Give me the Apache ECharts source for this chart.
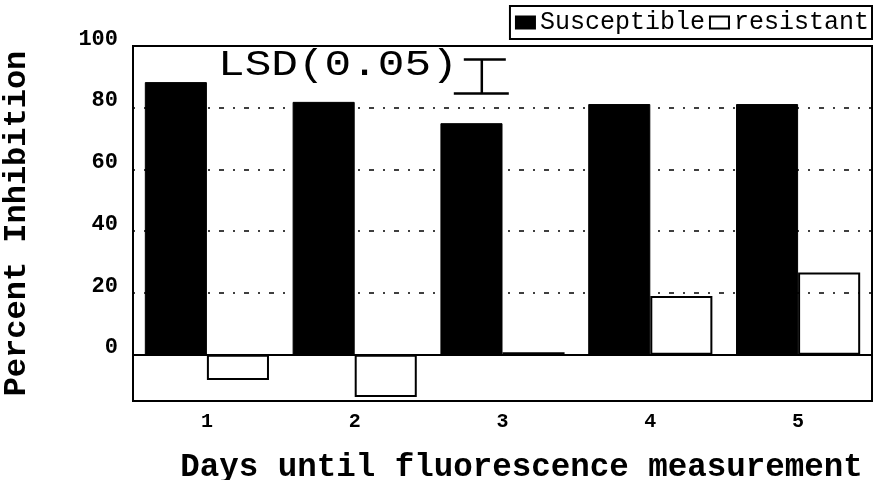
<!DOCTYPE html>
<html>
<head>
<meta charset="utf-8">
<script src="https://cdn.jsdelivr.net/npm/echarts@6/dist/echarts.min.js"></script>
<style>
  html, body { margin: 0; padding: 0; background: #fff; }
  #chart { width: 876px; height: 480px; }
</style>
</head>
<body>
<div id="chart"></div>
<script>
// Inhibition by days until fluorescence measurement
const days = ['1', '2', '3', '4', '5'];
const susceptible = [88.3, 81.9, 75.0, 81.2, 81.2];
const resistant = [-8.2, -13.7, 0.8, 19.0, 26.6];
const yTicks = [0, 20, 40, 60, 80, 100];
const gridLevels = [20, 40, 60, 80];
// LSD(0.05) bar: position on the day scale, top value and length
const lsd = { day: 2.86, top: 95.6, size: 11 };

const FONT = '"Liberation Mono", "DejaVu Sans Mono", monospace';

const chart = echarts.init(document.getElementById('chart'), null, { renderer: 'canvas' });

chart.setOption({
  animation: false,
  backgroundColor: '#ffffff',
  grid: {
    left: 133, right: 4, top: 46, bottom: 79,
    containLabel: false,
    outerBoundsMode: 'none',
    show: true, borderColor: '#000', borderWidth: 2, backgroundColor: 'transparent'
  },
  legend: {
    right: 4, top: 6,
    itemGap: 4, itemWidth: 19, itemHeight: 12,
    padding: [4, 3, 4, 5],
    borderColor: '#000', borderWidth: 2,
    backgroundColor: '#fff',
    icon: 'rect',
    textStyle: { fontFamily: FONT, fontSize: 25, color: '#000' },
    data: ['Susceptible', 'resistant']
  },
  xAxis: [
    {
      type: 'category',
      data: days,
      axisLine: { onZero: false, lineStyle: { color: '#000', width: 2 } },
      axisTick: { show: false },
      axisLabel: { fontFamily: FONT, fontWeight: 'bold', fontSize: 20, color: '#000', margin: 11 },
      name: 'Days until fluorescence measurement',
      nameLocation: 'middle',
      nameGap: 50,
      nameMoveOverlap: false,
      nameTextStyle: { fontFamily: FONT, fontWeight: 'bold', fontSize: 32.5, color: '#000', padding: [0, 0, 0, 38] }
    },
    {
      type: 'value', min: 0.5, max: 5.5, show: false
    }
  ],
  yAxis: {
    type: 'value',
    min: -15, max: 100, interval: 5,
    axisLine: { show: false },
    axisTick: { show: false },
    splitLine: { show: false },
    axisLabel: {
      fontFamily: FONT, fontWeight: 'bold', fontSize: 22, color: '#000', margin: 15,
      verticalAlign: 'bottom', lineHeight: 14,
      formatter: v => (yTicks.indexOf(v) >= 0 ? String(v) : '')
    },
    name: 'Percent Inhibition',
    nameLocation: 'middle',
    nameRotate: 90,
    nameGap: 100,
    nameMoveOverlap: false,
    nameTextStyle: { fontFamily: FONT, fontWeight: 'bold', fontSize: 32, color: '#000' }
  },
  graphic: [
    {
      type: 'text', left: 218, top: 47, scaleX: 1.2,
      style: { text: 'LSD(0.05)', fontFamily: FONT, fontSize: 37, fill: '#000' }
    }
  ],
  series: [
    {
      name: 'Susceptible',
      type: 'bar',
      data: susceptible,
      barGap: '0%',
      barCategoryGap: '16%',
      itemStyle: { color: '#000', borderColor: '#000', borderWidth: 1 },
      z: 3,
      markLine: {
        silent: true, symbol: 'none', label: { show: false },
        lineStyle: { color: '#000', width: 1.5, type: [2, 9, 5, 9] },
        data: gridLevels.map(v => ({ yAxis: v }))
      }
    },
    {
      name: 'resistant',
      type: 'bar',
      data: resistant,
      itemStyle: { color: '#fff', borderColor: '#000', borderWidth: 2 },
      z: 3,
      markLine: {
        silent: true, symbol: 'none', label: { show: false },
        lineStyle: { color: '#000', width: 2, type: 'solid' },
        data: [{ yAxis: 0 }],
        z: 5
      }
    },
    {
      name: 'LSD',
      type: 'custom',
      xAxisIndex: 1,
      yAxisIndex: 0,
      data: [[lsd.day, lsd.top, lsd.top - lsd.size]],
      renderItem: function (params, api) {
        const top = api.coord([api.value(0), api.value(1)]);
        const bot = api.coord([api.value(0), api.value(2)]);
        const style = { stroke: '#000', lineWidth: 2.5 };
        return {
          type: 'group',
          children: [
            { type: 'line', shape: { x1: top[0], y1: top[1], x2: bot[0], y2: bot[1] }, style },
            { type: 'line', shape: { x1: top[0] - 18, y1: top[1], x2: top[0] + 24, y2: top[1] }, style },
            { type: 'line', shape: { x1: bot[0] - 28, y1: bot[1], x2: bot[0] + 27, y2: bot[1] }, style }
          ]
        };
      },
      z: 6
    }
  ]
});
</script>
</body>
</html>
